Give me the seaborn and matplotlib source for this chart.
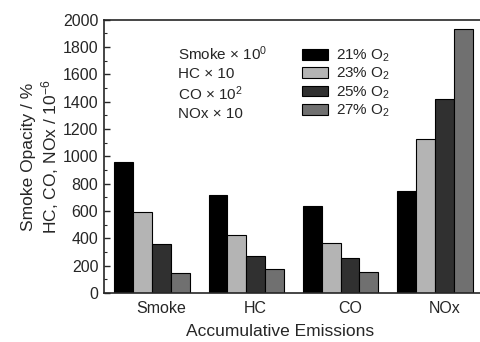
import numpy as np
import pandas as pd
import seaborn as sns
import matplotlib.pyplot as plt
from matplotlib.ticker import MultipleLocator

# data
emissions = ['Smoke', 'HC', 'CO', 'NOx']
oxygen = ['21% O$_2$', '23% O$_2$', '25% O$_2$', '27% O$_2$']
o2_21 = [960, 720, 635, 745]
o2_23 = [595, 425, 370, 1125]
o2_25 = [362, 275, 255, 1420]
o2_27 = [148, 180, 155, 1930]
scale_notes = ['Smoke \u00d7 10$^0$', 'HC \u00d7 10', 'CO \u00d7 10$^2$', 'NOx \u00d7 10']

df = pd.DataFrame({
    'emission': np.tile(emissions, 4),
    'oxygen': np.repeat(oxygen, 4),
    'value': o2_21 + o2_23 + o2_25 + o2_27,
})

sns.set_style('ticks')
plt.rcParams['font.family'] = ['Liberation Sans', 'DejaVu Sans']
plt.rcParams['mathtext.fontset'] = 'custom'
plt.rcParams['mathtext.rm'] = 'Liberation Sans'
plt.rcParams['mathtext.it'] = 'Liberation Sans'

fig = plt.figure(figsize=(4.81, 3.42), dpi=100)
ax = fig.add_axes([0.216, 0.143, 0.784, 0.799])

palette = ['#000000', '#b4b4b4', '#303030', '#707070']
sns.barplot(data=df, x='emission', y='value', hue='oxygen', palette=palette,
            width=0.8, edgecolor='black', linewidth=0.8, saturation=1, ax=ax)

ax.set_ylim(0, 2000)
ax.set_xlim(-0.51, 3.49)
ax.yaxis.set_major_locator(MultipleLocator(200))
ax.yaxis.set_minor_locator(MultipleLocator(100))
ax.tick_params(axis='y', direction='in', length=4, width=1, labelsize=11.5, pad=4)
ax.tick_params(axis='y', which='minor', direction='in', length=2, width=0.8)
ax.set_xticks(np.arange(4) + 0.1)
ax.set_xticklabels(emissions)
ax.tick_params(axis='x', length=0, labelsize=11.5, pad=6)
for s in ['left', 'bottom', 'top']:
    ax.spines[s].set_linewidth(1.2)
ax.spines['right'].set_visible(False)

ax.set_xlabel('Accumulative Emissions', fontsize=12.5)
ax.xaxis.set_label_coords(0.467, -0.113)
ax.set_ylabel('Smoke Opacity / %\nHC, CO, NOx / 10$^{-6}$', fontsize=12.5, labelpad=1)

for i, t in enumerate(scale_notes):
    ax.text(0.197, 0.875 - i * 0.073, t, transform=ax.transAxes, fontsize=11,
            va='center', ha='left')

ax.legend(loc='upper left', bbox_to_anchor=(0.51, 0.92), frameon=False,
          fontsize=11, handlelength=1.7, handleheight=0.7, labelspacing=0.12,
          handletextpad=0.5, borderaxespad=0)

fig.savefig('out.png', dpi=100)
